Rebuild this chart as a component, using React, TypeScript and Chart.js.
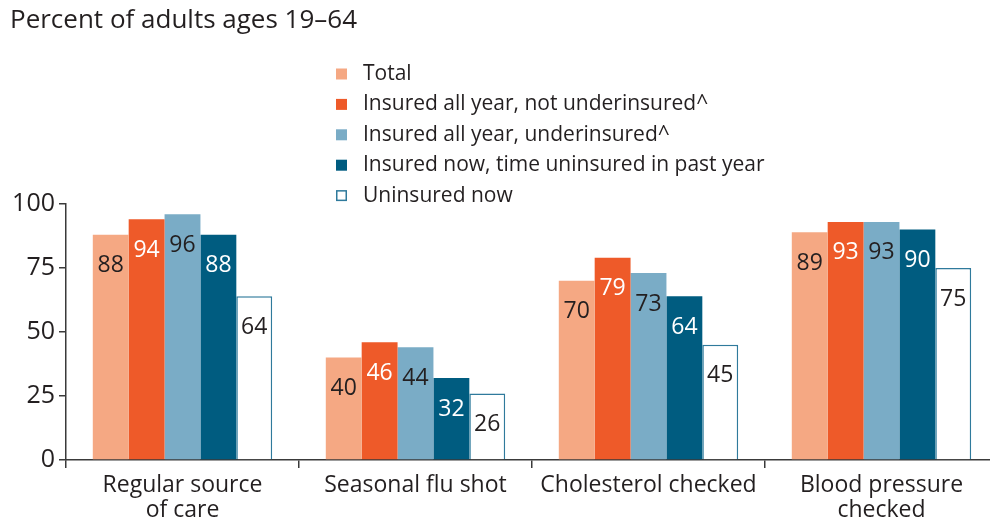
import React, { useEffect, useRef } from "react";
import { Chart, registerables } from "chart.js";

Chart.register(...registerables);

const titleText = "Percent of adults ages 19–64";
const categories: string[][] = [
  ["Regular source", "of care"],
  ["Seasonal flu shot"],
  ["Cholesterol checked"],
  ["Blood pressure", "checked"],
];
const seriesNames = [
  "Total",
  "Insured all year, not underinsured^",
  "Insured all year, underinsured^",
  "Insured now, time uninsured in past year",
  "Uninsured now",
];
const total = [88, 40, 70, 89];
const insuredNotUnder = [94, 46, 79, 93];
const insuredUnder = [96, 44, 73, 93];
const insuredNowGap = [88, 32, 64, 90];
const uninsuredNow = [64, 26, 45, 75];
const yTicks = [0, 25, 50, 75, 100];

const FONT = "'Open Sans', 'Noto Sans', sans-serif";
const DARK = "#231f20";
const fills = ["#f5a883", "#ee5a29", "#7aacc6", "#005c80", "#ffffff"];
const borders = ["#f5a883", "#ee5a29", "#7aacc6", "#005c80", "#2f7a9c"];
const labelColors = [DARK, "#ffffff", DARK, "#ffffff", DARK];

const valueLabels = {
  id: "valueLabels",
  afterDatasetsDraw(chart: any) {
    const ctx = chart.ctx;
    ctx.save();
    ctx.font = `23px ${FONT}`;
    ctx.textAlign = "center";
    ctx.textBaseline = "middle";
    chart.data.datasets.forEach((ds: any, di: number) => {
      const meta = chart.getDatasetMeta(di);
      meta.data.forEach((bar: any, i: number) => {
        ctx.fillStyle = labelColors[di];
        ctx.fillText(String(ds.data[i]), bar.x, bar.y + 31);
      });
    });
    ctx.restore();
  },
};

const customLegend = {
  id: "customLegend",
  afterDraw(chart: any) {
    const ctx = chart.ctx;
    ctx.save();
    ctx.font = `21px ${FONT}`;
    ctx.textAlign = "left";
    ctx.textBaseline = "middle";
    chart.data.datasets.forEach((ds: any, i: number) => {
      const cy = 74 + i * 30.4;
      ctx.fillStyle = ds.backgroundColor;
      ctx.fillRect(336, cy - 5.5, 11, 11);
      if (i === 4) {
        ctx.strokeStyle = ds.borderColor;
        ctx.lineWidth = 1.5;
        ctx.strokeRect(336.75, cy - 4.75, 9.5, 9.5);
      }
      ctx.fillStyle = DARK;
      ctx.fillText(ds.label, 363, cy);
    });
    ctx.restore();
  },
};

export default function App() {
  const ref = useRef<HTMLCanvasElement>(null);
  useEffect(() => {
    let chart: Chart | null = null;
    let cancelled = false;
    const build = () => {
      if (cancelled || !ref.current) return;
      const seriesData = [total, insuredNotUnder, insuredUnder, insuredNowGap, uninsuredNow];
      chart = new Chart(ref.current, {
        type: "bar",
        data: {
          labels: categories as any,
          datasets: seriesData.map((d, i) => ({
            label: seriesNames[i],
            data: d,
            backgroundColor: fills[i],
            borderColor: borders[i],
            borderWidth: i === 4 ? 1.5 : 0,
            categoryPercentage: 0.77,
            barPercentage: 1,
          })),
        },
        options: {
          animation: false,
          responsive: true,
          maintainAspectRatio: false,
          layout: { padding: { left: 10, right: 2, top: 0, bottom: 0 } },
          plugins: {
            legend: { display: false },
            tooltip: { enabled: false },
            title: {
              display: true,
              text: titleText,
              align: "start",
              color: DARK,
              font: { family: FONT, size: 26, weight: "normal", lineHeight: 1.1 },
              padding: { top: 6, bottom: 169.4 },
            },
          },
          scales: {
            x: {
              grid: {
                offset: true,
                drawOnChartArea: false,
                drawTicks: true,
                tickLength: 8,
                color: "#3a3a3a",
                lineWidth: 1.5,
              },
              border: { display: true, color: "#3a3a3a", width: 1.5 },
              ticks: {
                color: DARK,
                font: { family: FONT, size: 23, lineHeight: 1.09 },
                padding: 5,
                maxRotation: 0,
                autoSkip: false,
              },
              afterFit: (s: any) => {
                s.height = 60;
              },
            },
            y: {
              min: 0,
              max: 100,
              afterBuildTicks: (s: any) => {
                s.ticks = yTicks.map((v) => ({ value: v }));
              },
              grid: {
                drawOnChartArea: false,
                drawTicks: true,
                tickLength: 7,
                color: "#3a3a3a",
                lineWidth: 1.5,
              },
              border: { display: true, color: "#3a3a3a", width: 1.5 },
              ticks: {
                color: DARK,
                font: { family: FONT, size: 25 },
                padding: 4,
              },
              afterFit: (s: any) => {
                s.width = 56;
              },
            },
          },
        },
        plugins: [valueLabels, customLegend],
      });
    };
    if ((document as any).fonts && (document as any).fonts.load) {
      Promise.all([
        (document as any).fonts.load(`21px 'Open Sans'`),
      ]).then(build, build);
    } else {
      build();
    }
    return () => {
      cancelled = true;
      if (chart) chart.destroy();
    };
  }, []);
  return (
    <div
      style={{
        position: "absolute",
        left: 0,
        top: 0,
        width: 990,
        height: 520,
        overflow: "hidden",
        background: "#ffffff",
      }}
    >
      <div style={{ position: "relative", width: 1000, height: 520 }}>
        <canvas ref={ref} />
      </div>
    </div>
  );
}
